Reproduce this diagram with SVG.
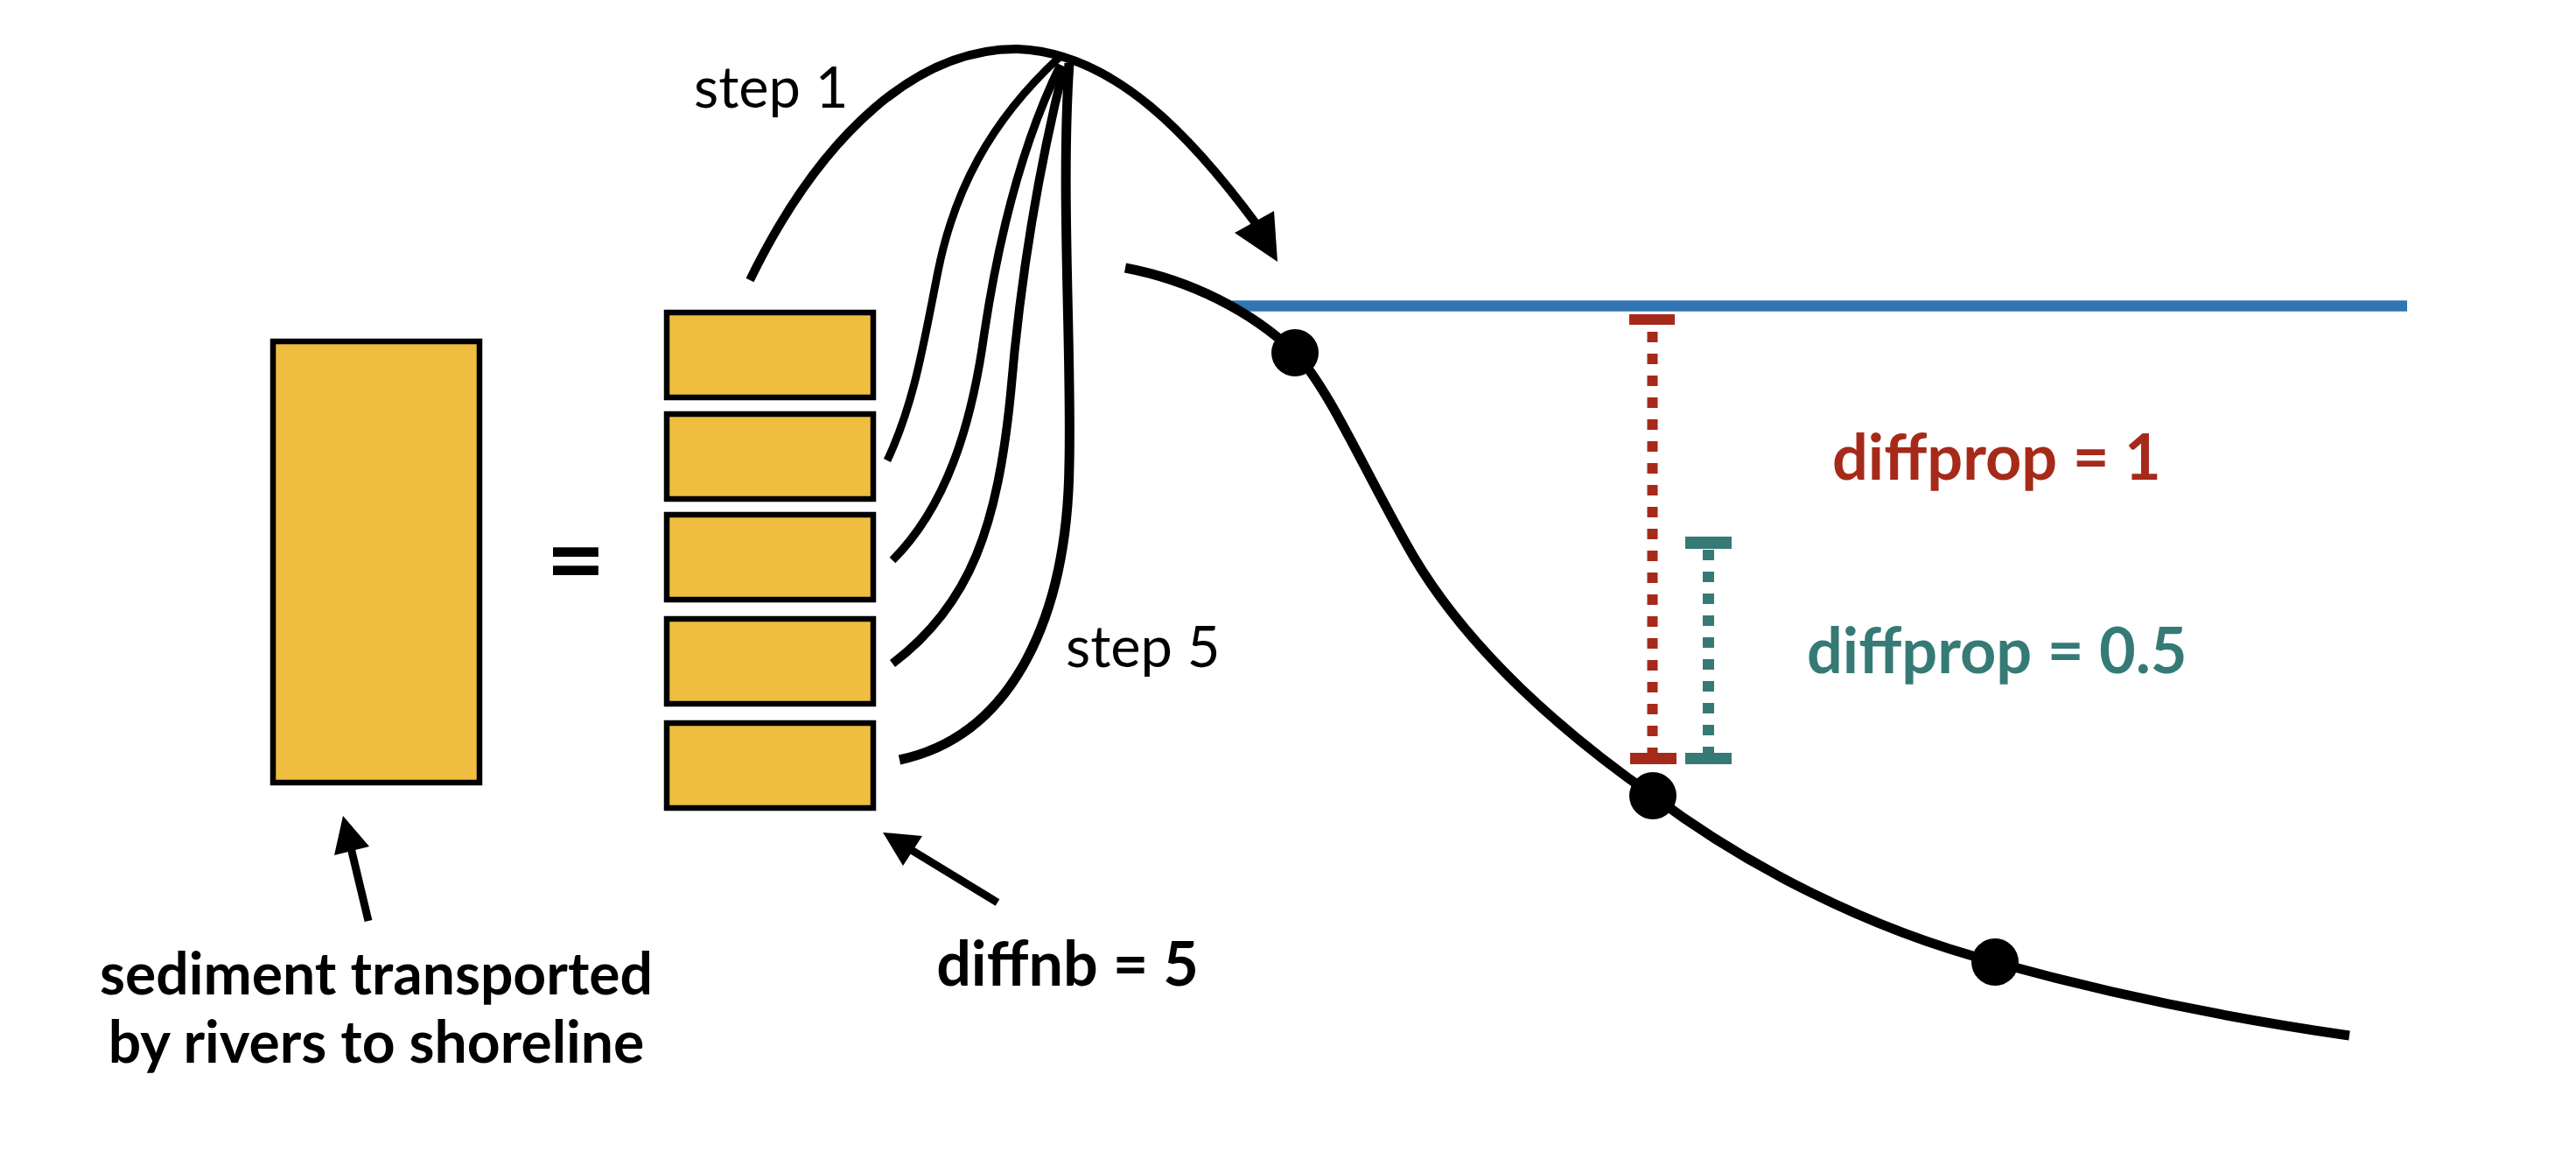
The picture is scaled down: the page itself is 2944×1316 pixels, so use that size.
<svg xmlns="http://www.w3.org/2000/svg" width="2944" height="1316" viewBox="0 0 2944 1316">
<style>
.blk{fill:#EFBD40;stroke:#000;stroke-width:6.5}
.ln{fill:none;stroke:#000;stroke-linecap:butt}
.lbl{font-family:Lato,"Open Sans","Liberation Sans",sans-serif;fill:#000}
.b{font-weight:bold}
.red{fill:#A62A1A}
.teal{fill:#367A76}
</style>
<rect width="2944" height="1316" fill="#fff"/>
<g id="sediment">
<rect class="blk" x="312" y="390" width="236" height="504"/>
</g>
<g id="equals"><text class="lbl b" x="658" y="681" font-size="117" text-anchor="middle">=</text></g>
<g id="parts">
<rect class="blk" x="762" y="357" width="236" height="97"/>
<rect class="blk" x="762" y="473" width="236" height="97"/>
<rect class="blk" x="762" y="588" width="236" height="97"/>
<rect class="blk" x="762" y="707" width="236" height="97"/>
<rect class="blk" x="762" y="826" width="236" height="97"/>
</g>
<g id="sealevel"><line x1="1408" y1="349.5" x2="2751" y2="349.5" stroke="#3275B4" stroke-width="12.5"/></g>
<g id="profile">
<path class="ln" stroke-width="11" d="M1286,306 C1360,320 1430,355 1480,403 C1520,445 1560,540 1615,635 C1680,745 1790,840 1889,909 C1990,985 2130,1060 2280,1099 C2420,1138 2560,1165 2685,1183"/>
<circle cx="1480" cy="403" r="27"/>
<circle cx="1889" cy="909" r="27"/>
<circle cx="2280" cy="1099" r="27"/>
</g>
<g id="diffprop1">
<rect x="1862" y="359" width="52" height="12" fill="#A62A1A"/>
<line x1="1888.5" y1="379" x2="1888.5" y2="860" stroke="#A62A1A" stroke-width="12" stroke-dasharray="12 13"/>
<rect x="1863" y="860" width="53" height="13" fill="#A62A1A"/>
<text class="lbl b red" x="2094" y="548" font-size="72">diffprop = 1</text>
</g>
<g id="diffprop05">
<rect x="1926" y="613" width="53" height="14" fill="#367A76"/>
<line x1="1952.5" y1="628" x2="1952.5" y2="860" stroke="#367A76" stroke-width="13" stroke-dasharray="12 13"/>
<rect x="1926" y="860" width="53" height="13" fill="#367A76"/>
<text class="lbl b teal" x="2065" y="769" font-size="72">diffprop = 0.5</text>
</g>
<g id="connectors">
<path class="ln" stroke-width="10" d="M857,320 C940,150 1050,55 1163,56 C1275,60 1365,160 1438,259"/>
<polygon points="1411,266 1456,241 1460,299"/>
<path class="ln" stroke-width="9" d="M1210,66 C1130,140 1090,220 1072,310 C1055,395 1045,460 1014,526"/>
<path class="ln" stroke-width="9.5" d="M1212,74 C1165,170 1140,280 1125,380 C1110,490 1080,580 1020,640"/>
<path class="ln" stroke-width="10" d="M1216,76 C1185,200 1165,330 1155,450 C1140,600 1110,690 1020,758"/>
<path class="ln" stroke-width="11" d="M1222,72 C1212,220 1225,400 1222,530 C1220,700 1160,840 1028,868"/>
<line class="ln" stroke-width="9" x1="421" y1="1052" x2="399" y2="960"/>
<polygon points="392,932 382,977 422,967"/>
<line class="ln" stroke-width="9" x1="1140" y1="1031" x2="1035" y2="967"/>
<polygon points="1009,951 1054,955 1032,989"/>
</g>
<g id="labels">
<text class="lbl" x="793" y="123" font-size="65">step 1</text>
<text class="lbl" x="1218" y="762" font-size="65">step 5</text>
<text class="lbl b" x="430" y="1136" font-size="66" text-anchor="middle">sediment transported</text>
<text class="lbl b" x="430" y="1214" font-size="66" text-anchor="middle">by rivers to shoreline</text>
<text class="lbl b" x="1220" y="1126" font-size="70" text-anchor="middle">diffnb = 5</text>
</g>
</svg>
